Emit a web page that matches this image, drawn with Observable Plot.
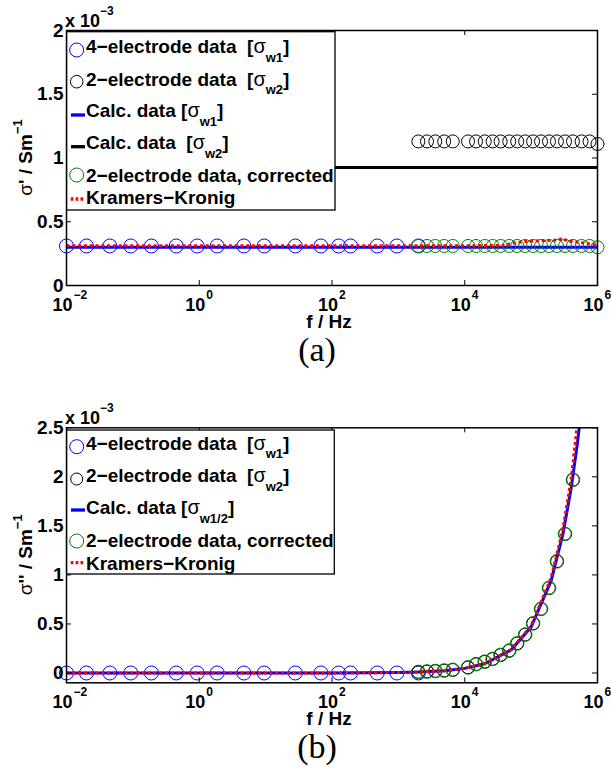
<!DOCTYPE html>
<html><head><meta charset="utf-8">
<script src="https://cdn.jsdelivr.net/npm/d3@7"></script>
<script src="https://cdn.jsdelivr.net/npm/@observablehq/plot@0.6"></script>
<style>
body{margin:0;background:#fff;}
#wrap{width:611px;height:774px;overflow:hidden;background:#fff;}
svg{display:block;}
</style></head><body><div id="wrap"></div>
<script>
// ---- data (conductivities in units of 10^-3 S/m) ----
const fFour = [0.01, 0.02, 0.045, 0.093, 0.19, 0.45, 0.93, 1.86, 4.7, 9.5, 28, 68, 126, 190, 480, 950, 2000];
const fTwo = [2000, 2700, 3600, 4900, 6600, 11200, 14800, 20000, 26300, 34700, 46800, 61700, 81300, 107000, 141000, 186000, 245000, 324000, 427000, 575000, 759000, 1000000];

// panel (a): real part
const re4 = [0.31, 0.31, 0.31, 0.31, 0.31, 0.31, 0.31, 0.31, 0.31, 0.31, 0.31, 0.31, 0.31, 0.31, 0.31, 0.31, 0.31];
const re2 = [1.13, 1.13, 1.13, 1.13, 1.13, 1.13, 1.13, 1.13, 1.13, 1.13, 1.13, 1.13, 1.13, 1.13, 1.13, 1.13, 1.13, 1.13, 1.13, 1.13, 1.13, 1.11];
const re2corr = [0.31, 0.31, 0.31, 0.31, 0.31, 0.31, 0.31, 0.31, 0.31, 0.31, 0.31, 0.31, 0.31, 0.31, 0.31, 0.31, 0.31, 0.31, 0.31, 0.31, 0.31, 0.30];
const fCalcRe = [0.01, 1000000];
const reCalc1 = [0.30, 0.30];
const reCalc2 = [0.925, 0.925];
const fKKre = [0.01, 100, 10000, 40000, 50000, 80000, 150000, 250000, 300000, 350000, 500000, 700000, 1000000];
const reKK = [0.312, 0.312, 0.312, 0.315, 0.33, 0.345, 0.352, 0.355, 0.37, 0.35, 0.34, 0.33, 0.315];

// panel (b): imaginary part
const im4 = [0, 0, 0, 0, 0, 0, 0, 0, 0, 0, 0, 0, 0, 0, 0, 0, 0];
const im2 = [0.01, 0.015, 0.02, 0.025, 0.032, 0.057, 0.09, 0.115, 0.143, 0.184, 0.228, 0.302, 0.391, 0.506, 0.653, 0.867, 1.139, 1.418, 1.97];
const im2corr = [0.01, 0.015, 0.02, 0.025, 0.032, 0.057, 0.09, 0.115, 0.143, 0.184, 0.228, 0.302, 0.391, 0.506, 0.653, 0.867, 1.139, 1.418, 1.97];
const fCalcIm = [0.01, 100, 1000, 2000, 5000, 10000, 20000, 50000, 100000, 200000, 300000, 400000, 500000, 600000];
const imCalc = [0, 0, 0.005, 0.01, 0.024, 0.047, 0.094, 0.235, 0.47, 0.94, 1.41, 1.88, 2.35, 2.82];
const imKK = [0, 0, 0.005, 0.01, 0.024, 0.048, 0.096, 0.24, 0.48, 0.97, 1.46, 1.97, 2.55, 3.1];

// axes
const xTicks = [0.01, 1, 100, 10000, 1000000];
const xExp = ["−2", "0", "2", "4", "6"];
const yTicksA = [0, 0.5, 1, 1.5, 2];
const yTicksB = [0, 0.5, 1, 1.5, 2, 2.5];

const BLUE = "#0000ff", BLACK = "#000000", GREEN = "#008000", RED = "#ff0000";
const FONT = "'Liberation Sans', Arial, Helvetica, sans-serif";
const W = 611, H = 387, ML = 66, MR = 14, PW = W - ML - MR, PH = 255;

const zip = (xs, ys) => ys.map((v, i) => ({f: xs[i], v}));

function panel({mt, yDomain, yTicks, layers, prime, legend, caption}) {
  const mb = H - mt - PH;
  const txt = {fontSize: 18, fontWeight: "bold", fill: "black"};
  const marks = [
    ...layers,
    Plot.frame({stroke: "black", strokeWidth: 1.5}),
    Plot.tickX(xTicks, {x: d => d, insetTop: PH - 5, stroke: "black"}),
    Plot.tickX(xTicks, {x: d => d, insetBottom: PH - 5, stroke: "black"}),
    Plot.tickY(yTicks, {y: d => d, insetRight: PW - 5, stroke: "black"}),
    Plot.tickY(yTicks, {y: d => d, insetLeft: PW - 5, stroke: "black"}),
    Plot.axisY({ticks: yTicks, anchor: "left", tickSize: 0, tickPadding: 3, tickFormat: d => String(d), fontSize: 19, fontWeight: "bold", fill: "black", label: null}),
    Plot.text(xTicks, {x: d => d, text: () => "10", frameAnchor: "bottom", dy: 25, dx: 6, textAnchor: "end", lineAnchor: "bottom", ...txt}),
    Plot.text(xTicks, {x: d => d, text: (d, i) => xExp[i], frameAnchor: "bottom", dy: 13.3, dx: 7, textAnchor: "start", lineAnchor: "bottom", ...txt, fontSize: 12})
  ];
  const svg = Plot.plot({
    width: W, height: H, marginTop: mt, marginBottom: mb, marginLeft: ML, marginRight: MR,
    x: {type: "log", domain: [0.01, 1000000], axis: null},
    y: {domain: yDomain, axis: null},
    style: {fontFamily: FONT, background: "white", color: "black", overflow: "visible"},
    marks
  });
  const g = d3.select(svg).append("g").attr("font-family", FONT).attr("fill", "black").attr("text-anchor", "start");
  const ft = mt;
  // multiplier
  const m = g.append("text").attr("x", 65).attr("y", ft - 3.3).attr("font-weight", "bold").attr("font-size", 18).attr("text-anchor", "start");
  m.append("tspan").text("x 10");
  m.append("tspan").attr("font-size", 12).attr("dy", -11.7).text("−3");
  // y label
  const yl = g.append("text").attr("transform", `translate(32,${ft + PH / 2}) rotate(-90)`)
    .attr("text-anchor", "middle").attr("font-weight", "bold").attr("font-size", 19).style("white-space", "pre");
  yl.append("tspan").attr("font-weight", "normal").text("σ");
  yl.append("tspan").text(prime + " / Sm");
  yl.append("tspan").attr("font-size", 13).attr("dy", -10).text("−1");
  // x label
  g.append("text").attr("x", 329).attr("y", ft + PH + 43).attr("text-anchor", "middle")
    .attr("font-weight", "bold").attr("font-size", 19).text("f / Hz");
  // caption
  g.append("text").attr("x", 317).attr("y", ft + PH + 76).attr("text-anchor", "middle")
    .attr("font-family", "'Liberation Serif', 'Times New Roman', serif").attr("font-size", 34).text(caption);
  // legend
  const L = legend;
  g.append("rect").attr("x", 66.7).attr("y", ft + L.top).attr("width", L.right - 66.7).attr("height", L.bottom - L.top)
    .attr("fill", "white").attr("stroke", "black").attr("stroke-width", 1.3);
  for (const e of L.entries) {
    const y = ft + e.y;
    if (e.type === "circle") {
      g.append("circle").attr("cx", 76.7).attr("cy", y).attr("r", e.r).attr("fill", "none").attr("stroke", e.color).attr("stroke-width", 1);
    } else if (e.type === "line") {
      g.append("line").attr("x1", 71).attr("x2", 85).attr("y1", y).attr("y2", y).attr("stroke", e.color).attr("stroke-width", 3.3);
    } else {
      g.append("line").attr("x1", 70.7).attr("x2", 84).attr("y1", y).attr("y2", y).attr("stroke", e.color).attr("stroke-width", 3.3).attr("stroke-dasharray", "2.7,2.2");
    }
    const t = g.append("text").attr("x", 86).attr("y", ft + e.base).attr("text-anchor", "start")
      .attr("font-weight", "bold").attr("font-size", 19).style("white-space", "pre");
    for (const [s, kind] of e.parts) {
      const sp = t.append("tspan").text(s);
      if (kind === "greek") sp.attr("font-weight", "normal").attr("font-size", 20);
      if (kind === "sub") sp.attr("font-size", 13).attr("dy", 8.4);
      if (kind === "after") sp.attr("dy", -8.4);
    }
  }
  return svg;
}

const dotsOpts = (color, r) => ({x: "f", y: "v", r, stroke: color, fill: "none", strokeWidth: 1});
const lineOpts = (color, dash) => ({x: "f", y: "v", stroke: color, strokeWidth: 3, clip: true, strokeLinecap: "butt",
  ...(dash ? {strokeDasharray: "3 2.8"} : {})});

const svgA = panel({
  mt: 30, yDomain: [0, 2], yTicks: yTicksA, prime: "'", caption: "(a)",
  layers: [
    Plot.dot(zip(fFour, re4), dotsOpts(BLUE, 7)),
    Plot.dot(zip(fTwo, re2), dotsOpts(BLACK, 6.5)),
    Plot.line(zip(fCalcRe, reCalc1), lineOpts(BLUE)),
    Plot.line(zip(fCalcRe, reCalc2), lineOpts(BLACK)),
    Plot.dot(zip(fTwo, re2corr), dotsOpts(GREEN, 6.5)),
    Plot.line(zip(fKKre, reKK), lineOpts(RED, true))
  ],
  legend: {top: 1.7, bottom: 180, right: 335, entries: [
    {type: "circle", color: BLUE, r: 7, y: 20, base: 23.3, parts: [["4−electrode data  ["], ["σ", "greek"], ["w1", "sub"], ["]", "after"]]},
    {type: "circle", color: BLACK, r: 6.3, y: 51.7, base: 56, parts: [["2−electrode data  ["], ["σ", "greek"], ["w2", "sub"], ["]", "after"]]},
    {type: "line", color: BLUE, y: 85, base: 87.3, parts: [["Calc. data ["], ["σ", "greek"], ["w1", "sub"], ["]", "after"]]},
    {type: "line", color: BLACK, y: 116.7, base: 119.3, parts: [["Calc. data  ["], ["σ", "greek"], ["w2", "sub"], ["]", "after"]]},
    {type: "circle", color: GREEN, r: 7, y: 145, base: 151.7, parts: [["2−electrode data, corrected"]]},
    {type: "dash", color: RED, y: 169, base: 174, parts: [["Kramers−Kronig"]]}
  ]}
});

const svgB = panel({
  mt: 40.3, yDomain: [-0.1, 2.5], yTicks: yTicksB, prime: "''", caption: "(b)",
  layers: [
    Plot.dot(zip(fFour, im4), dotsOpts(BLUE, 7)),
    Plot.dot(zip(fTwo, im2), dotsOpts(BLACK, 6.3)),
    Plot.line(zip(fCalcIm, imCalc), lineOpts(BLUE)),
    Plot.dot(zip(fTwo, im2corr), dotsOpts(GREEN, 6.8)),
    Plot.line(zip(fCalcIm, imKK), lineOpts(RED, true))
  ],
  legend: {top: 2.7, bottom: 146.7, right: 334.3, entries: [
    {type: "circle", color: BLUE, r: 7, y: 19.4, base: 22.7, parts: [["4−electrode data  ["], ["σ", "greek"], ["w1", "sub"], ["]", "after"]]},
    {type: "circle", color: BLACK, r: 6, y: 51.7, base: 55, parts: [["2−electrode data  ["], ["σ", "greek"], ["w2", "sub"], ["]", "after"]]},
    {type: "line", color: BLUE, y: 82.7, base: 87, parts: [["Calc. data ["], ["σ", "greek"], ["w1/2", "sub"], ["]", "after"]]},
    {type: "circle", color: GREEN, r: 7, y: 113.7, base: 119.4, parts: [["2−electrode data, corrected"]]},
    {type: "dash", color: RED, y: 135.4, base: 142.7, parts: [["Kramers−Kronig"]]}
  ]}
});

const wrap = document.getElementById("wrap");
wrap.appendChild(svgA);
wrap.appendChild(svgB);
</script></body></html>
